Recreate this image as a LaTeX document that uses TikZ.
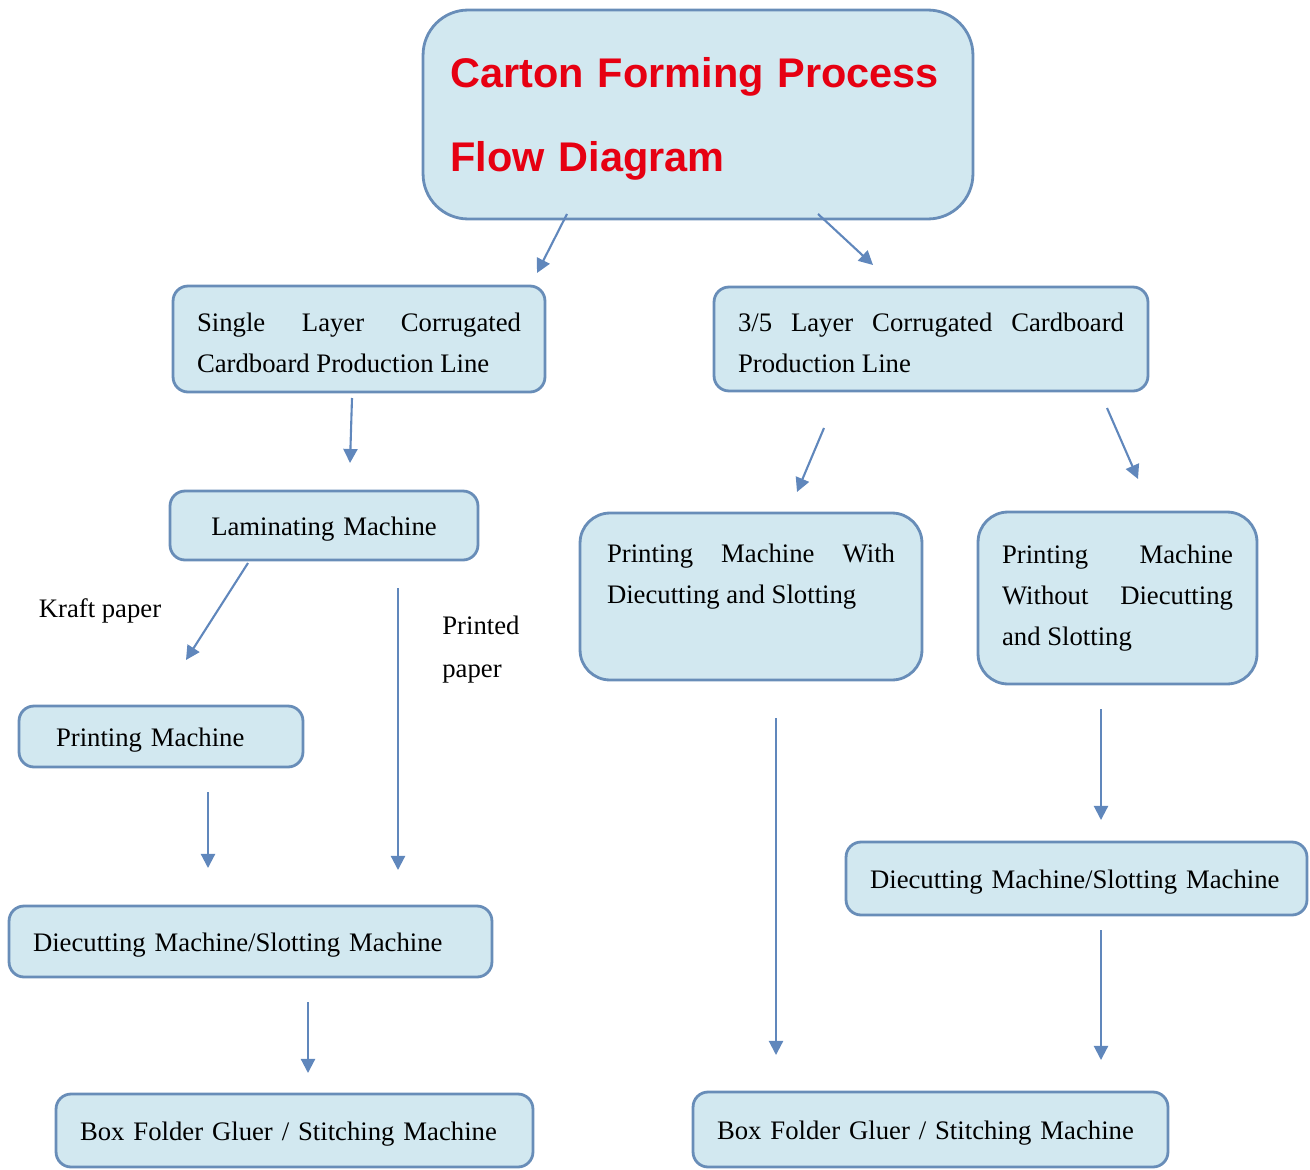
\documentclass[tikz,border=0pt]{standalone}
\usepackage{fontspec}
\setmainfont{Liberation Serif}
\newfontfamily\titlefont{Liberation Sans}
\usetikzlibrary{arrows.meta}
\definecolor{boxfill}{RGB}{210,232,240}
\definecolor{boxline}{RGB}{104,141,184}
\definecolor{arrowc}{RGB}{96,135,188}
\definecolor{titlered}{RGB}{230,0,18}
\hyphenpenalty=10000
\tolerance=10000

\begin{document}
\begin{tikzpicture}[x=0.02cm,y=-0.02cm,>={Triangle[width=8pt,length=8pt]},
    plain/.style={draw=boxline, fill=boxfill, line width=1.6pt, rounded corners=0.3cm, inner xsep=0.48cm, inner ysep=0pt, font=\fontsize{15.2}{23.3}\selectfont, align=justify},
    box/.style={plain, execute at begin node={\rule{0pt}{15pt}}},
    flow/.style={->, draw=arrowc, line width=1.2pt},
    lbl/.style={font=\fontsize{15.2}{24.5}\selectfont, align=left, inner sep=0pt}]
    \useasboundingbox (0,0) rectangle (1310,1169);

    \node[plain, rounded corners=0.9cm, minimum width=11cm, minimum height=4.18cm, text width=9.9cm, inner xsep=0.55cm, align=left, text=titlered, font=\titlefont\bfseries\fontsize{23.6}{47.6}\selectfont, execute at begin node={\rule{0pt}{22pt}}] (title) at (698,114.5) {Carton Forming Process\\Flow Diagram};

    \node[box, minimum height=2.12cm, text width=6.48cm] (single) at (359,339) {Single Layer Corrugated Cardboard Production Line};
    \node[box, minimum height=2.08cm, text width=7.72cm] (layer) at (931,339) {3/5 Layer Corrugated Cardboard Production Line};
    \node[box, minimum height=1.38cm, text width=5.2cm, align=center] (lam) at (324,525.5) {Laminating Machine};
    \node[box, minimum height=1.22cm, text width=4.2cm, inner xsep=0.74cm, align=left] (print) at (161,736.5) {Printing Machine};
    \node[box, minimum height=1.42cm, text width=8.7cm, align=left] (dieL) at (250.5,941.5) {Diecutting Machine/Slotting Machine};
    \node[box, minimum height=1.46cm, text width=8.58cm, align=left] (foldL) at (294.5,1130.5) {Box Folder Gluer / Stitching Machine};
    \node[box, rounded corners=0.6cm, minimum height=3.34cm, text width=5.76cm, inner xsep=0.54cm] (pwith) at (751,596.5) {Printing Machine With Diecutting and Slotting\par\strut};
    \node[plain, rounded corners=0.6cm, minimum height=3.44cm, text width=4.62cm] (pwo) at (1117.5,598) {Printing Machine Without Diecutting and Slotting};
    \node[box, minimum height=1.46cm, text width=8.26cm, align=left] (dieR) at (1076.5,878.5) {Diecutting Machine/Slotting Machine};
    \node[box, minimum height=1.5cm, text width=8.54cm, align=left] (foldR) at (930.5,1129.5) {Box Folder Gluer / Stitching Machine};

    \node[lbl] (kraft) at (100,611) {Kraft paper};
    \node[lbl, anchor=west] (printed) at (442,650) {Printed\\paper};

    % arrow ends (the arrows float between the boxes)
    \coordinate (t1) at (567,214);  \coordinate (s1) at (537,273);
    \coordinate (t2) at (818,214);  \coordinate (l1) at (873,265);
    \coordinate (s2) at (352,398);  \coordinate (m1) at (350,463);
    \coordinate (l2) at (824,428);  \coordinate (w1) at (797,492);
    \coordinate (l3) at (1107,408); \coordinate (o1) at (1138,479);
    \coordinate (m2) at (248,563);  \coordinate (p1) at (186,660);
    \coordinate (m3) at (398,588);  \coordinate (d1) at (398,870);
    \coordinate (p2) at (208,792);  \coordinate (d2) at (208,868);
    \coordinate (d3) at (308,1002); \coordinate (f1) at (308,1073);
    \coordinate (w2) at (776,718);  \coordinate (f2) at (776,1055);
    \coordinate (o2) at (1101,709); \coordinate (r1) at (1101,820);
    \coordinate (r2) at (1101,930); \coordinate (f3) at (1101,1060);

    \draw[flow] (t1) -- (s1);
    \draw[flow] (t2) -- (l1);
    \draw[flow] (s2) -- (m1);
    \draw[flow] (l2) -- (w1);
    \draw[flow] (l3) -- (o1);
    \draw[flow] (m2) -- (p1);
    \draw[flow] (m3) -- (d1);
    \draw[flow] (p2) -- (d2);
    \draw[flow] (d3) -- (f1);
    \draw[flow] (w2) -- (f2);
    \draw[flow] (o2) -- (r1);
    \draw[flow] (r2) -- (f3);
\end{tikzpicture}
\end{document}
